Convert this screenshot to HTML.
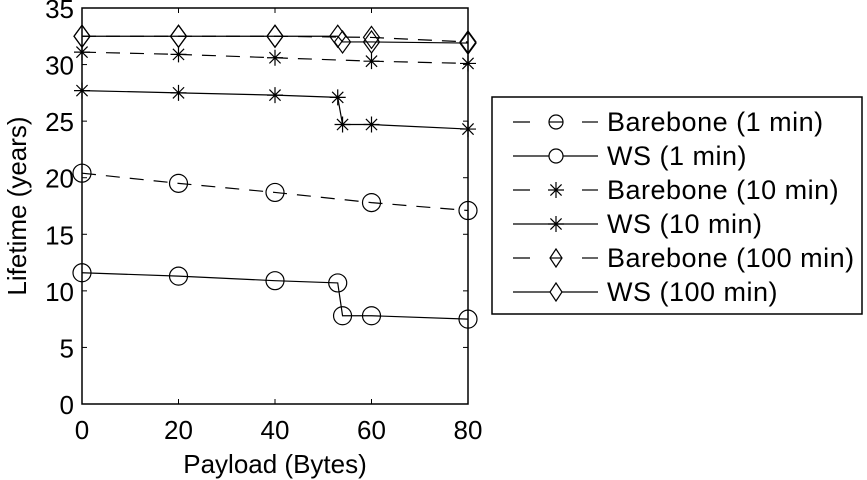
<!DOCTYPE html>
<html><head><meta charset="utf-8"><style>
body{margin:0;background:#fff;}
svg{display:block;font-family:"Liberation Sans",Arial,sans-serif;}
</style></head><body>
<svg id="chart" width="867" height="480"></svg>
<script>
const categories=["Barebone (1 min)","WS (1 min)","Barebone (10 min)","WS (10 min)","Barebone (100 min)","WS (100 min)"];
const xBare=[0,20,40,60,80];
const xWS=[0,20,40,53,54,60,80];
const bare1=[20.4,19.5,18.7,17.8,17.1];
const ws1=[11.6,11.3,10.9,10.7,7.8,7.8,7.5];
const bare10=[31.1,30.9,30.6,30.3,30.1];
const ws10=[27.7,27.5,27.3,27.1,24.7,24.7,24.3];
const bare100=[32.5,32.5,32.5,32.4,32.0];
const ws100=[32.5,32.5,32.5,32.5,32.0,32.0,31.9];
const xTicks=[0,20,40,60,80];
const yTicks=[0,5,10,15,20,25,30,35];

const NS="http://www.w3.org/2000/svg";
const svg=document.getElementById('chart');
const L=82,R=468,T=8,B=404;
const xs=v=>L+(v-0)/80*(R-L);
const ys=v=>B-(v-0)/35*(B-T);
function mk(tag,attrs,parent){const e=document.createElementNS(NS,tag);for(const k in attrs)e.setAttribute(k,attrs[k]);(parent||svg).appendChild(e);return e;}

const axes=mk('g',{});


mk('rect',{x:L,y:T,width:R-L,height:B-T,fill:'none',stroke:'#000','stroke-width':1.5},axes);
xTicks.forEach(t=>{const x=xs(t);
 mk('line',{x1:x,x2:x,y1:B,y2:B-5,stroke:'#000'},axes);
 mk('line',{x1:x,x2:x,y1:T,y2:T+5,stroke:'#000'},axes);
 const tx=mk('text',{x:x,y:B+35,'text-anchor':'middle','font-size':26},axes);tx.textContent=t;
 
 });
yTicks.forEach(t=>{const y=ys(t);
 mk('line',{x1:L,x2:L+5,y1:y,y2:y,stroke:'#000'},axes);
 mk('line',{x1:R,x2:R-5,y1:y,y2:y,stroke:'#000'},axes);
 const tx=mk('text',{x:L-8,y:y+10,'text-anchor':'end','font-size':26},axes);tx.textContent=t;
 
 });
const xt=mk('text',{x:(L+R)/2,y:473,'text-anchor':'middle','font-size':26});xt.textContent='Payload (Bytes)';


const yt=mk('text',{x:0,y:0,'text-anchor':'middle','font-size':26,transform:`translate(26,${(T+B)/2}) rotate(-90)`});yt.textContent='Lifetime (years)';



function marker(g,type,x,y){
 if(type==='o')mk('circle',{cx:x,cy:y,r:9,fill:'none',stroke:'#000','stroke-width':1.2},g);
 else if(type==='d')mk('polygon',{points:`${x},${y-11} ${x+8},${y} ${x},${y+11} ${x-8},${y}`,fill:'none',stroke:'#000','stroke-width':1.2},g);
 else{const s=8;
  mk('path',{d:`M${x-s},${y}H${x+s}M${x},${y-s}V${y+s}M${x-s*.7},${y-s*.7}L${x+s*.7},${y+s*.7}M${x-s*.7},${y+s*.7}L${x+s*.7},${y-s*.7}`,stroke:'#000','stroke-width':1.2},g);}
}
const series=[[xBare,bare1,'o',true],[xWS,ws1,'o',false],[xBare,bare10,'*',true],[xWS,ws10,'*',false],[xBare,bare100,'d',true],[xWS,ws100,'d',false]];
series.forEach((s,i)=>{
 const g=mk('g',{});
 
 
 const pts=s[0].map((x,j)=>xs(x)+','+ys(s[1][j])).join(' ');
 mk('polyline',{points:pts,fill:'none',stroke:'#000','stroke-width':1.2,'stroke-dasharray':s[3]?'14,10':'none'},g);
 s[0].forEach((x,j)=>marker(g,s[2],xs(x),ys(s[1][j])));
});

const leg=mk('g',{});


mk('rect',{x:492,y:97,width:370,height:217,fill:'#fff',stroke:'#000','stroke-width':1.5},leg);
series.forEach((s,i)=>{
 const y=122+i*34;
 const e=mk('g',{},leg);
 
 
 if(s[3]){mk('line',{x1:513,x2:530,y1:y,y2:y,stroke:'#000','stroke-width':1.2},e);mk('line',{x1:582,x2:598,y1:y,y2:y,stroke:'#000','stroke-width':1.2},e);}
 else mk('line',{x1:513,x2:598,y1:y,y2:y,stroke:'#000','stroke-width':1.2},e);
 if(s[2]==='o'){mk('circle',{cx:556,cy:y,r:7,fill:'#fff',stroke:'#000','stroke-width':1.2},e);if(s[3])mk('line',{x1:549,x2:563,y1:y,y2:y,stroke:'#000','stroke-width':1.2},e);}
 else if(s[2]==='d'){mk('polygon',{points:`556,${y-9} 562,${y} 556,${y+9} 550,${y}`,fill:'#fff',stroke:'#000','stroke-width':1.2},e);if(s[3])mk('line',{x1:550,x2:562,y1:y,y2:y,stroke:'#000','stroke-width':1.2},e);}
 else marker(e,'*',556,y);
 const t=mk('text',{x:607,y:y+9,'font-size':27,'letter-spacing':0.5},e);t.textContent=categories[i];
});
</script>
</body></html>
